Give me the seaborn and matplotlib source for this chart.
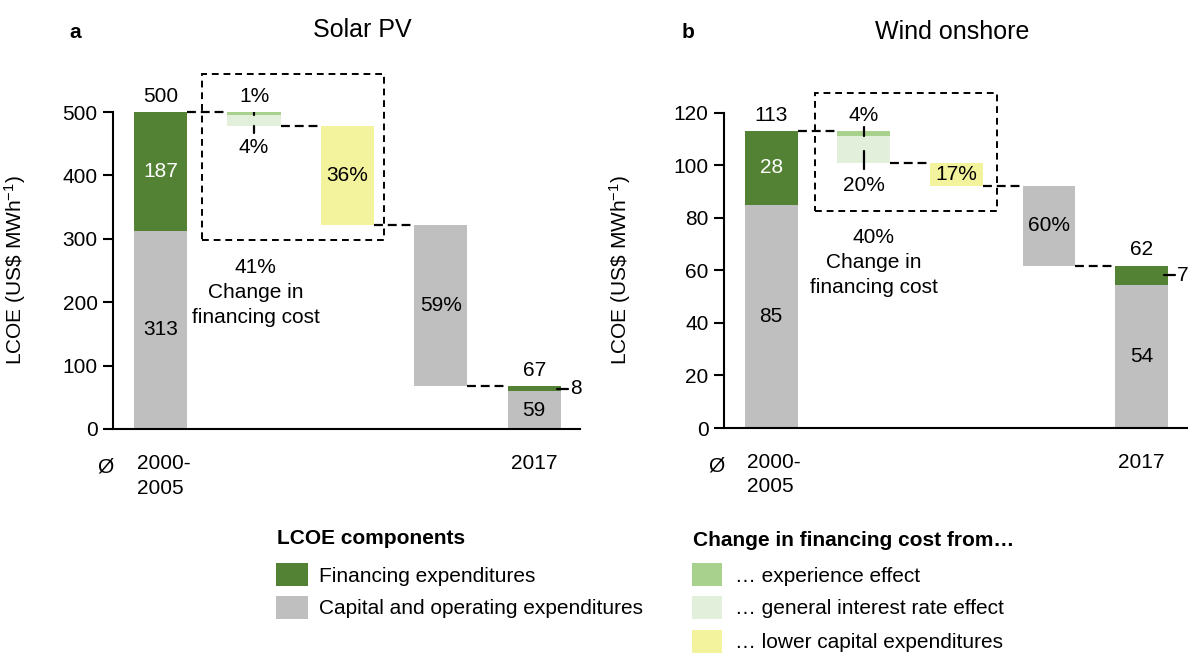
#-----------------------------------------------------------------
# LCOE waterfall: Solar PV and Wind onshore
#-----------------------------------------------------------------

import matplotlib
matplotlib.use("Agg")
import matplotlib.pyplot as plt
from matplotlib.patches import Rectangle
import seaborn as sns

#-----------------------------------------------------------------
# Data
#-----------------------------------------------------------------

# [capital and operating expenditures, financing expenditures]
solar_start = [313, 187]
solar_end = [59.3, 7.9]
# share of the total change: experience, interest rate, lower capex, other
solar_pct = [1, 4, 36, 59]
solar_fin_change = 41

wind_start = [85, 28]
wind_end = [54.4, 7.4]
wind_pct = [4, 20, 17, 60]
wind_fin_change = 40

period_labels = ["2000-\n2005", "2017"]

#-----------------------------------------------------------------
# Colours
#-----------------------------------------------------------------

FIN_COLOR = "#548235"
CAPEX_COLOR = "#bfbfbf"
EXP_COLOR = "#a9d18e"
INT_COLOR = "#e2efda"
LOWCAP_COLOR = "#f3f39d"

FS = 15
BAR_W = 0.57
DASH = (0, (4, 2.2))

sns.set_style("white")
plt.rcParams["font.family"] = ["Liberation Sans", "DejaVu Sans"]
plt.rcParams["mathtext.default"] = "regular"
for key in ["text.color", "axes.labelcolor", "xtick.color", "ytick.color"]:
    plt.rcParams[key] = "black"

W, H = 1188, 657


def fx(px):
    return px / W


def fy(py):
    return 1 - py / H


def bar(ax, x, height, bottom, color):
    ax.bar(x, height, bottom=bottom, width=BAR_W, color=color, linewidth=0)


def draw_panel(ax, start, end, pct, fin_change, ymax, ystep, cfg):
    """Draw one waterfall panel"""
    top0 = sum(start)
    top_end = sum(end)
    drop = top0 - top_end
    lv1 = top0 - pct[0] / 100 * drop
    lv2 = lv1 - pct[1] / 100 * drop
    lv3 = lv2 - pct[2] / 100 * drop
    lv4 = top_end

    # start bar
    bar(ax, 0, start[0], 0, CAPEX_COLOR)
    bar(ax, 0, start[1], start[0], FIN_COLOR)
    # change in financing cost
    bar(ax, 1, top0 - lv1, lv1, EXP_COLOR)
    bar(ax, 1, lv1 - lv2, lv2, INT_COLOR)
    bar(ax, 2, lv2 - lv3, lv3, LOWCAP_COLOR)
    # other changes
    bar(ax, 3, lv3 - lv4, lv4, CAPEX_COLOR)
    # end bar
    bar(ax, 4, end[0], 0, CAPEX_COLOR)
    bar(ax, 4, end[1], end[0], FIN_COLOR)

    # dashed connectors
    for i, level in enumerate([top0, lv2, lv3, lv4]):
        ax.plot([i + BAR_W / 2, i + 1 - BAR_W / 2], [level, level],
                color="black", lw=1.6, linestyle=DASH, clip_on=False)

    off = 0.05 * ymax
    ax.text(0, top0 + off, f"{top0:.0f}", ha="center", va="center", fontsize=FS)
    ax.text(0, start[0] + start[1] / 2, f"{start[1]:.0f}", ha="center",
            va="center", fontsize=FS, color="white")
    ax.text(0, start[0] / 2, f"{start[0]:.0f}", ha="center", va="center", fontsize=FS)

    # experience + interest labels with leaders
    ax.text(1, top0 + off, f"{pct[0]}%", ha="center", va="center", fontsize=FS)
    ax.plot([1, 1], [top0 + 0.012 * ymax, lv1], color="black", lw=1.6)
    ax.text(1, lv2 - 0.07 * ymax, f"{pct[1]}%", ha="center", va="center", fontsize=FS)
    lo_a, lo_b = cfg["leader_lo"]
    ax.plot([1, 1], [lv2 + lo_a * ymax, lv2 + lo_b * ymax], color="black", lw=1.6,
            clip_on=False)

    ax.text(2, (lv2 + lv3) / 2, f"{pct[2]}%", ha="center", va="center", fontsize=FS)
    ax.text(3, (lv3 + lv4) / 2, f"{pct[3]}%", ha="center", va="center", fontsize=FS)

    ax.text(4, top_end + off, f"{top_end:.0f}", ha="center", va="center", fontsize=FS)
    ax.text(4, end[0] / 2, f"{end[0]:.0f}", ha="center", va="center", fontsize=FS)
    fin_mid = end[0] + end[1] / 2
    ax.plot([4 + BAR_W / 2 - 0.04, 4 + BAR_W / 2 + 0.08], [fin_mid, fin_mid],
            color="black", lw=1.6, clip_on=False)
    ax.text(4 + BAR_W / 2 + 0.1, fin_mid, f"{end[1]:.0f}", ha="left", va="center",
            fontsize=FS, clip_on=False)

    # dashed box around financing effects
    bx0, by0, bx1, by1 = cfg["box"]
    ax.add_patch(Rectangle((bx0, by0), bx1 - bx0, by1 - by0, fill=False,
                           edgecolor="black", lw=1.4, linestyle=(0, (3.5, 2.5)),
                           clip_on=False))
    tx, ty = cfg["note"]
    ax.text(tx, ty, f"{fin_change}%\nChange in\nfinancing cost", ha="center",
            va="center", fontsize=FS, linespacing=1.4)

    # axes styling
    ax.set_xlim(-0.51, 4.49)
    ax.set_ylim(0, ymax)
    ax.set_yticks(range(0, ymax + 1, ystep))
    ax.set_xticks([])
    ax.tick_params(axis="y", labelsize=FS, direction="out", length=7, width=1.5,
                   color="black", left=True, pad=4)
    sns.despine(ax=ax)
    for side in ["left", "bottom"]:
        ax.spines[side].set_linewidth(1.5)
        ax.spines[side].set_color("black")

    ax.set_ylabel("LCOE (US\\$ MWh$^{-1}$)", fontsize=FS)
    ax.yaxis.set_label_coords(cfg["ylabel_x"], 0.5)

    tr = ax.get_xaxis_transform()
    ax.text(-0.59, -0.12, "Ø", transform=tr, ha="center", va="center", fontsize=FS)
    ax.text(0.03, -0.08, period_labels[0], transform=tr, ha="center", va="top",
            fontsize=FS, linespacing=1.35, multialignment="left")
    ax.text(4, -0.08, period_labels[1], transform=tr, ha="center", va="top",
            fontsize=FS)


def main():
    fig = plt.figure(figsize=(W / 100, H / 100), dpi=100)

    ax_s = fig.add_axes([fx(113), fy(429), fx(580) - fx(113), (429 - 112) / H])
    ax_w = fig.add_axes([fx(724), fy(428), fx(1187) - fx(724), (428 - 112.7) / H])

    draw_panel(ax_s, solar_start, solar_end, solar_pct, solar_fin_change, 500, 100,
               {"leader_lo": (0.0, -0.022), "box": (0.44, 298, 2.39, 560),
                "note": (1.02, 216), "ylabel_x": -0.182})
    draw_panel(ax_w, wind_start, wind_end, wind_pct, wind_fin_change, 120, 20,
               {"leader_lo": (0.04, -0.017), "box": (0.47, 82.7, 2.44, 127.5),
                "note": (1.105, 63), "ylabel_x": -0.197})

    # panel titles
    fig.text(fx(75), fy(33), "a", fontsize=FS, fontweight="bold", ha="center", va="center")
    fig.text(fx(362), fy(30), "Solar PV", fontsize=18, ha="center", va="center")
    fig.text(fx(688), fy(33), "b", fontsize=FS, fontweight="bold", ha="center", va="center")
    fig.text(fx(952), fy(32), "Wind onshore", fontsize=18, ha="center", va="center")

    # legend
    fig.text(fx(277), fy(538), "LCOE components", fontsize=FS, fontweight="bold",
             ha="left", va="center")
    fig.text(fx(693), fy(540), "Change in financing cost from…", fontsize=FS,
             fontweight="bold", ha="left", va="center")

    left_items = [(FIN_COLOR, "Financing expenditures", 563),
                  (CAPEX_COLOR, "Capital and operating expenditures", 596)]
    right_items = [(EXP_COLOR, "… experience effect", 563),
                   (INT_COLOR, "… general interest rate effect", 596),
                   (LOWCAP_COLOR, "… lower capital expenditures", 630)]

    for color, label, top in left_items:
        fig.add_artist(Rectangle((fx(276), fy(top + 23)), fx(32), 23 / H,
                                 facecolor=color, edgecolor="none"))
        fig.text(fx(319), fy(top + 13), label, fontsize=FS, ha="left", va="center")
    for color, label, top in right_items:
        fig.add_artist(Rectangle((fx(692), fy(top + 23)), fx(30), 23 / H,
                                 facecolor=color, edgecolor="none"))
        fig.text(fx(735), fy(top + 13), label, fontsize=FS, ha="left", va="center")

    fig.savefig("out.png", dpi=100)


if __name__ == "__main__":
    main()
